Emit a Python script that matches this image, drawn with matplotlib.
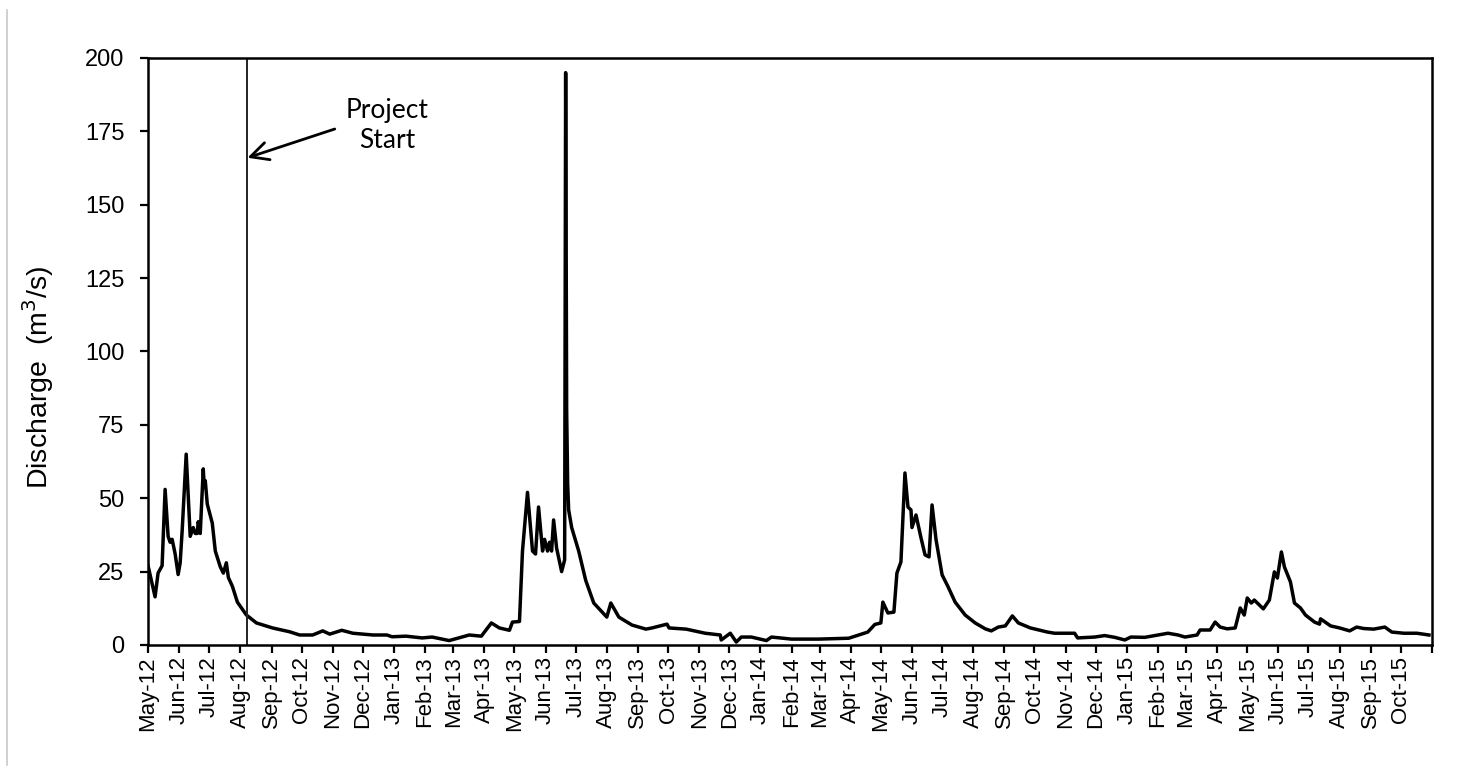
import matplotlib
matplotlib.use("Agg")
import matplotlib.pyplot as plt
from matplotlib.lines import Line2D
import pandas as pd

# Daily discharge (m3/s)
dates = [
    "2012-05-01", "2012-05-08", "2012-05-11", "2012-05-15", "2012-05-18", "2012-05-21",
    "2012-05-23", "2012-05-25", "2012-05-28", "2012-05-31", "2012-06-02", "2012-06-04",
    "2012-06-08", "2012-06-12", "2012-06-15", "2012-06-17", "2012-06-19", "2012-06-20",
    "2012-06-22", "2012-06-25", "2012-06-26", "2012-06-27", "2012-06-29", "2012-07-04",
    "2012-07-07", "2012-07-12", "2012-07-15", "2012-07-18", "2012-07-20", "2012-07-24",
    "2012-07-29", "2012-08-07", "2012-08-17", "2012-09-02", "2012-09-19", "2012-09-29",
    "2012-10-12", "2012-10-22", "2012-10-29", "2012-11-10", "2012-11-21", "2012-12-11",
    "2012-12-25", "2012-12-30", "2013-01-13", "2013-01-29", "2013-02-08", "2013-02-25",
    "2013-03-17", "2013-03-29", "2013-04-08", "2013-04-16", "2013-04-26", "2013-04-29",
    "2013-05-06", "2013-05-09", "2013-05-14", "2013-05-19", "2013-05-22", "2013-05-25",
    "2013-05-29", "2013-05-31", "2013-06-03", "2013-06-05", "2013-06-07", "2013-06-09",
    "2013-06-12", "2013-06-17", "2013-06-20", "2013-06-21", "2013-06-22", "2013-06-23",
    "2013-06-24", "2013-06-27", "2013-07-04", "2013-07-11", "2013-07-19", "2013-08-01",
    "2013-08-05", "2013-08-13", "2013-08-26", "2013-09-09", "2013-09-15", "2013-09-30",
    "2013-10-02", "2013-10-19", "2013-11-07", "2013-11-22", "2013-11-23", "2013-12-02",
    "2013-12-08", "2013-12-13", "2013-12-23", "2014-01-07", "2014-01-12", "2014-02-01",
    "2014-02-28", "2014-03-30", "2014-04-10", "2014-04-18", "2014-04-25", "2014-05-01",
    "2014-05-03", "2014-05-08", "2014-05-14", "2014-05-17", "2014-05-21", "2014-05-25",
    "2014-05-28", "2014-05-31", "2014-06-01", "2014-06-05", "2014-06-10", "2014-06-14",
    "2014-06-18", "2014-06-21", "2014-06-25", "2014-07-01", "2014-07-07", "2014-07-14",
    "2014-07-24", "2014-08-03", "2014-08-13", "2014-08-19", "2014-08-26", "2014-09-02",
    "2014-09-09", "2014-09-15", "2014-09-27", "2014-10-14", "2014-10-21", "2014-11-10",
    "2014-11-13", "2014-11-30", "2014-12-10", "2014-12-20", "2014-12-30", "2015-01-05",
    "2015-01-19", "2015-02-01", "2015-02-11", "2015-02-21", "2015-02-28", "2015-03-12",
    "2015-03-15", "2015-03-25", "2015-03-30", "2015-04-04", "2015-04-11", "2015-04-19",
    "2015-04-24", "2015-04-28", "2015-05-01", "2015-05-05", "2015-05-08", "2015-05-17",
    "2015-05-23", "2015-05-28", "2015-05-31", "2015-06-04", "2015-06-07", "2015-06-13",
    "2015-06-17", "2015-06-23", "2015-06-28", "2015-07-07", "2015-07-12", "2015-07-13",
    "2015-07-23", "2015-08-01", "2015-08-11", "2015-08-18", "2015-08-25", "2015-09-04",
    "2015-09-15", "2015-09-22", "2015-10-04", "2015-10-17", "2015-10-29",
]
discharge = [
    27, 16.4, 24.5, 27, 53, 37,
    35, 36, 31, 24, 28, 39,
    65, 37, 40, 38, 38, 42,
    38, 60, 54, 56, 48, 41.5,
    32, 26.6, 24.5, 28, 23, 20,
    14.6, 10.2, 7.5, 5.8, 4.5, 3.4,
    3.4, 4.8, 3.7, 5, 4, 3.4,
    3.4, 2.8, 3, 2.4, 2.7, 1.5,
    3.4, 3, 7.5, 5.8, 5, 7.8,
    8, 32, 52, 32, 31, 47,
    32, 36, 32, 35, 32, 42.6,
    33, 25, 29, 195, 80, 55,
    46, 40, 32, 22, 14.3, 9.5,
    14.3, 9.5, 6.8, 5.4, 5.8, 7.1,
    5.8, 5.4, 4, 3.4, 1.7, 4,
    1, 2.7, 2.7, 1.5, 2.7, 2,
    2, 2.3, 3.5, 4.4, 7, 7.5,
    14.6, 10.9, 11.2, 24.5, 28.3, 58.6,
    47, 46, 40, 44.3, 36.5, 30.7,
    30, 47.7, 35.8, 23.9, 19.8, 14.6,
    10.2, 7.5, 5.5, 4.8, 6.1, 6.5,
    9.9, 7.5, 5.8, 4.4, 4, 4,
    2.4, 2.7, 3.2, 2.6, 1.7, 2.7,
    2.6, 3.4, 4, 3.4, 2.7, 3.4,
    5.1, 5.1, 7.8, 6.1, 5.5, 5.8,
    12.6, 10.2, 16, 14.3, 15.3, 12.3,
    15.3, 24.9, 22.8, 31.7, 26.6, 21.5,
    14.3, 12.6, 10.2, 7.8, 7.1, 8.9,
    6.5, 5.8, 4.8, 6.1, 5.6, 5.4,
    6.1, 4.4, 4, 4, 3.4,
]

project_start = "2012-08-08"
month_ticks = pd.date_range("2012-05-01", "2015-11-01", freq="MS")
month_labels = [d.strftime("%b-%y") for d in month_ticks[:-1]] + [""]
y_ticks = [0, 25, 50, 75, 100, 125, 150, 175, 200]

plt.rcParams["font.family"] = ["Liberation Sans", "DejaVu Sans"]

fig = plt.figure(figsize=(14.6, 7.74), dpi=100)
ax = fig.add_axes([0.1014, 0.1667, 0.8794, 0.7584])

ax.plot(pd.to_datetime(dates), discharge, color="black", linewidth=2.5)

# project start marker
ps = pd.Timestamp(project_start)
ax.plot([ps, ps], [0, 200], color="#222222", linewidth=1.4)
ax.annotate("Project\nStart", xy=(ps, 166), xytext=(pd.Timestamp("2012-12-25"), 177),
            ha="center", va="center", fontsize=19, family=["Lato", "DejaVu Sans"],
            linespacing=1.25,
            arrowprops=dict(arrowstyle="->", color="black", lw=2,
                            mutation_scale=32, shrinkA=6, shrinkB=0,
                            relpos=(0.0, 0.5)))

ax.set_xlim(pd.Timestamp("2012-05-01"), pd.Timestamp("2015-11-01"))
ax.set_ylim(0, 200)
ax.set_yticks(y_ticks)
ax.set_xticks(month_ticks)
ax.set_xticklabels(month_labels, rotation=90)
ax.tick_params(axis="both", direction="out", width=1.6, length=6)
ax.tick_params(axis="x", labelsize=16, pad=2)
ax.tick_params(axis="y", labelsize=17, pad=11)
ax.set_ylabel("Discharge  (m$^3$/s)", fontsize=20.5)
ax.yaxis.set_label_coords(-0.072, 0.455)
for s in ax.spines.values():
    s.set_linewidth(1.8)

fig.add_artist(Line2D([0.0045, 0.0045], [0.012, 0.987], color="#c8c8c8", linewidth=1.2))

fig.savefig("out.png", dpi=100)
